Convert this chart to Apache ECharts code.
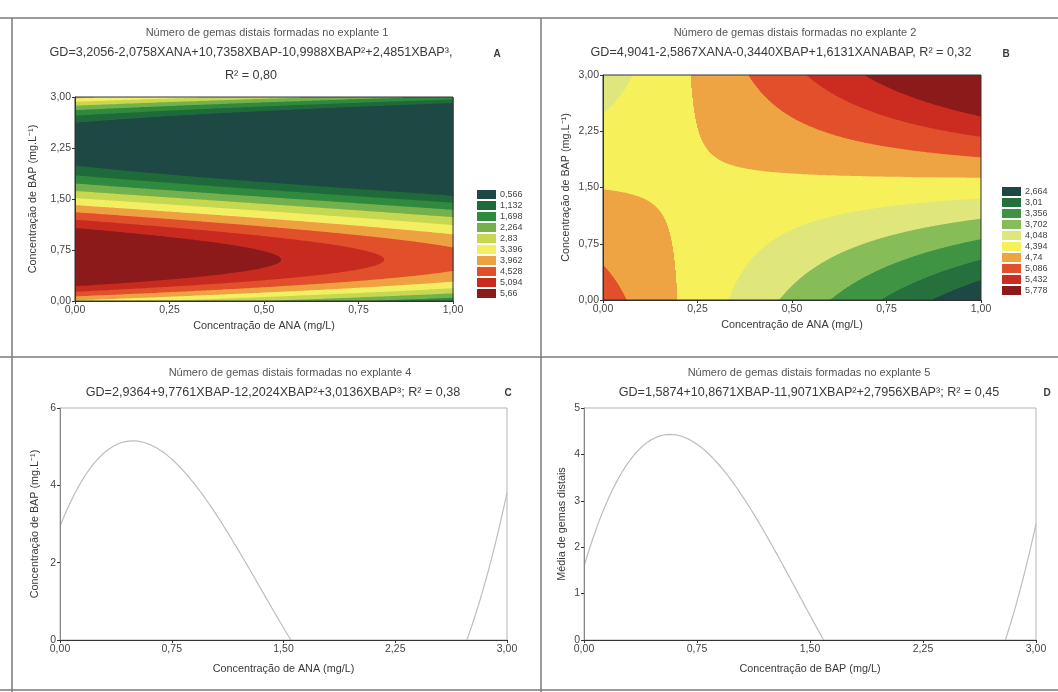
<!DOCTYPE html>
<html>
<head>
<meta charset="utf-8">
<script src="https://cdn.jsdelivr.net/npm/echarts@6/dist/echarts.min.js"></script>
<style>
  html, body { margin: 0; padding: 0; background: #fff; }
  #chart { width: 1058px; height: 692px; }
</style>
</head>
<body>
<div id="chart"></div>
<script>
// Fitted models, coefficients as printed in each panel
const coefA = [3.2056, -2.0758, 10.7358, -10.9988, 2.4851]; // 1, ANA, BAP, BAP², BAP³
const coefB = [4.9041, -2.5867, -0.3440, 1.6131];            // 1, ANA, BAP, ANA·BAP
const coefC = [2.9364, 9.7761, -12.2024, 3.0136];            // 1, x, x², x³
const coefD = [1.5874, 10.8671, -11.9071, 2.7956];           // 1, x, x², x³
const r2Labels = ['0,80', '0,32', '0,38', '0,45'];

const panelTitles = [
  'Número de gemas distais formadas no explante 1',
  'Número de gemas distais formadas no explante 2',
  'Número de gemas distais formadas no explante 4',
  'Número de gemas distais formadas no explante 5'
];
const panelLetters = ['A', 'B', 'C', 'D'];

// Contour levels (legend) and band colours, lowest first
const levelsA = [0.566, 1.132, 1.698, 2.264, 2.83, 3.396, 3.962, 4.528, 5.094, 5.66];
const levelsB = [2.664, 3.01, 3.356, 3.702, 4.048, 4.394, 4.74, 5.086, 5.432, 5.778];
const colorsA = ['#1d4844', '#1f6a3a', '#2f8a3d', '#74b04c', '#c6d750', '#f4ef62', '#eea140', '#e14f2b', '#c82a1f', '#8c1a1a'];
const colorsB = ['#1d4844', '#25703c', '#3f9444', '#86bd58', '#dfe77c', '#f6f15a', '#efa444', '#e1502b', '#cc2c20', '#8c1a1a'];

// Axis tick labels
const anaTicks = ['0,00', '0,25', '0,50', '0,75', '1,00'];
const bapTicks = ['0,00', '0,75', '1,50', '2,25', '3,00'];
const yTicksC = ['0', '2', '4', '6'];
const yTicksD = ['0', '1', '2', '3', '4', '5'];

const FONT = '"Liberation Sans", Arial, sans-serif';
const INK = '#3a3a3a';

function fmtNum(v) { return Math.abs(v).toFixed(4).replace('.', ','); }
function sgn(v) { return (v < 0 ? '-' : '+') + fmtNum(v); }

const eqA = 'GD=' + fmtNum(coefA[0]) + sgn(coefA[1]) + 'XANA' + sgn(coefA[2]) + 'XBAP' +
            sgn(coefA[3]) + 'XBAP²' + sgn(coefA[4]) + 'XBAP³,';
const eqB = 'GD=' + fmtNum(coefB[0]) + sgn(coefB[1]) + 'XANA' + sgn(coefB[2]) + 'XBAP' +
            sgn(coefB[3]) + 'XANABAP, R² = ' + r2Labels[1];
const eqC = 'GD=' + fmtNum(coefC[0]) + sgn(coefC[1]) + 'XBAP' + sgn(coefC[2]) + 'XBAP²' +
            sgn(coefC[3]) + 'XBAP³; R² = ' + r2Labels[2];
const eqD = 'GD=' + fmtNum(coefD[0]) + sgn(coefD[1]) + 'XBAP' + sgn(coefD[2]) + 'XBAP²' +
            sgn(coefD[3]) + 'XBAP³; R² = ' + r2Labels[3];

function surfA(ana, bap) {
  return coefA[0] + coefA[1] * ana + coefA[2] * bap + coefA[3] * bap * bap + coefA[4] * bap * bap * bap;
}
function surfB(ana, bap) {
  return coefB[0] + coefB[1] * ana + coefB[2] * bap + coefB[3] * ana * bap;
}
function cubic(c, x) { return c[0] + c[1] * x + c[2] * x * x + c[3] * x * x * x; }

// Split each narrow ANA column into runs of constant contour band along BAP.
// Each run: [ana0, ana1, bap0, bap1, value]
function bandRuns(fn, levels, nCols, nSteps) {
  const last = levels.length - 1;
  const binOf = v => { let k = 0; while (k < last && v > levels[k]) k++; return k; };
  const runs = [];
  for (let i = 0; i < nCols; i++) {
    const a0 = i / nCols, a1 = (i + 1) / nCols, a = (a0 + a1) / 2;
    let start = 0, startVal = fn(a, 0), cur = binOf(startVal);
    for (let s = 1; s <= nSteps; s++) {
      const b = 3 * s / nSteps;
      const v = fn(a, b);
      const k = binOf(v);
      if (k !== cur || s === nSteps) {
        runs.push([a0, a1, start, b, startVal]);
        start = b; startVal = v; cur = k;
      }
    }
  }
  return runs;
}

const runsA = bandRuns(surfA, levelsA, 378, 1500);
const runsB = bandRuns(surfB, levelsB, 378, 1500);

function sampleCurve(c) {
  const pts = [];
  for (let k = 0; k <= 300; k++) {
    const x = k * 0.01;
    pts.push([x, cubic(c, x)]);
  }
  return pts;
}

function pieces(levels, colors) {
  return levels.map((lv, k) => {
    const p = { color: colors[k], label: String(lv).replace('.', ',') };
    if (k === 0) p.lte = lv;
    else if (k === levels.length - 1) p.gt = levels[k - 1];
    else { p.gt = levels[k - 1]; p.lte = lv; }
    return p;
  });
}

function renderBand(params, api) {
  const p0 = api.coord([api.value(0), api.value(3)]);
  const p1 = api.coord([api.value(1), api.value(2)]);
  return {
    type: 'rect', silent: true,
    shape: { x: p0[0], y: p0[1], width: p1[0] - p0[0] + 0.6, height: p1[1] - p0[1] + 0.6 },
    style: { fill: api.visual('color') }
  };
}

const tickLabelStyle = { fontSize: 10.5, color: '#444', fontFamily: FONT };
const nameStyle = { fontSize: 10.8, color: INK, fontFamily: FONT };

function valueAxis(gridIndex, min, max, interval, labels, extra) {
  return Object.assign({
    type: 'value', gridIndex, min, max, interval, z: 6,
    axisLine: { show: true, lineStyle: { color: '#333', width: 1 } },
    axisTick: { show: true, length: 3, lineStyle: { color: '#333' } },
    axisLabel: {
      ...tickLabelStyle, margin: 4,
      formatter: v => labels[Math.round((v - min) / interval)]
    },
    splitLine: { show: false },
    nameLocation: 'middle',
    nameTextStyle: nameStyle
  }, extra || {});
}

const gA = { left: 75, top: 97, width: 378, height: 204 };
const gB = { left: 603, top: 75, width: 378, height: 225 };
const gC = { left: 60, top: 408, width: 447, height: 232 };
const gD = { left: 584, top: 408, width: 452, height: 232 };

function txt(x, y, text, size, opts) {
  return {
    type: 'text', x, y, silent: true,
    style: Object.assign({
      text, fill: INK, font: size + 'px ' + FONT,
      textAlign: 'center', textVerticalAlign: 'middle',
      align: 'center', verticalAlign: 'middle'
    }, opts || {})
  };
}
function rule(x1, y1, x2, y2) {
  return { type: 'line', silent: true, shape: { x1, y1, x2, y2 }, style: { stroke: '#7a7a7a', lineWidth: 1.5 } };
}

const chart = echarts.init(document.getElementById('chart'), null, { renderer: 'canvas' });

chart.setOption({
  backgroundColor: '#ffffff',
  animation: false,
  textStyle: { fontFamily: FONT },
  grid: [
    Object.assign({ show: true, borderColor: '#333', borderWidth: 1, backgroundColor: 'transparent', z: 5 }, gA),
    Object.assign({ show: true, borderColor: '#333', borderWidth: 1, backgroundColor: 'transparent', z: 5 }, gB),
    Object.assign({ show: true, borderColor: '#b5b5b5', borderWidth: 1, backgroundColor: 'transparent' }, gC),
    Object.assign({ show: true, borderColor: '#b5b5b5', borderWidth: 1, backgroundColor: 'transparent' }, gD)
  ],
  xAxis: [
    valueAxis(0, 0, 1, 0.25, anaTicks, { name: 'Concentração de ANA (mg/L)', nameGap: 20 }),
    valueAxis(1, 0, 1, 0.25, anaTicks, { name: 'Concentração de ANA (mg/L)', nameGap: 20 }),
    valueAxis(2, 0, 3, 0.75, bapTicks, { name: 'Concentração de ANA (mg/L)', nameGap: 24 }),
    valueAxis(3, 0, 3, 0.75, bapTicks, { name: 'Concentração de BAP (mg/L)', nameGap: 24 })
  ],
  yAxis: [
    valueAxis(0, 0, 3, 0.75, bapTicks, { name: 'Concentração de BAP (mg.L⁻¹)', nameGap: 36 }),
    valueAxis(1, 0, 3, 0.75, bapTicks, { name: 'Concentração de BAP (mg.L⁻¹)', nameGap: 31 }),
    valueAxis(2, 0, 6, 2, yTicksC, { name: 'Concentração de BAP (mg.L⁻¹)', nameGap: 19,
      axisLine: { show: true, lineStyle: { color: '#888' } } }),
    valueAxis(3, 0, 5, 1, yTicksD, { name: 'Média de gemas distais', nameGap: 16,
      axisLine: { show: true, lineStyle: { color: '#888' } } })
  ],
  visualMap: [
    {
      type: 'piecewise', seriesIndex: 0, dimension: 4,
      pieces: pieces(levelsA, colorsA),
      orient: 'vertical', inverse: true, align: 'left',
      left: 462, top: 175, itemWidth: 19, itemHeight: 9, itemGap: 2, textGap: 4,
      itemSymbol: 'rect', selectedMode: false, hoverLink: false,
      textStyle: { fontSize: 9, color: '#444', fontFamily: FONT }
    },
    {
      type: 'piecewise', seriesIndex: 1, dimension: 4,
      pieces: pieces(levelsB, colorsB),
      orient: 'vertical', inverse: true, align: 'left',
      left: 987, top: 172, itemWidth: 19, itemHeight: 9, itemGap: 2, textGap: 4,
      itemSymbol: 'rect', selectedMode: false, hoverLink: false,
      textStyle: { fontSize: 9, color: '#444', fontFamily: FONT }
    }
  ],
  series: [
    {
      type: 'custom', coordinateSystem: 'cartesian2d', xAxisIndex: 0, yAxisIndex: 0,
      data: runsA, encode: { x: [0, 1], y: [2, 3] }, renderItem: renderBand,
      clip: true, silent: true
    },
    {
      type: 'custom', coordinateSystem: 'cartesian2d', xAxisIndex: 1, yAxisIndex: 1,
      data: runsB, encode: { x: [0, 1], y: [2, 3] }, renderItem: renderBand,
      clip: true, silent: true
    },
    {
      type: 'line', xAxisIndex: 2, yAxisIndex: 2, data: sampleCurve(coefC),
      showSymbol: false, clip: true, silent: true,
      lineStyle: { color: '#bdbdbd', width: 1.2 }
    },
    {
      type: 'line', xAxisIndex: 3, yAxisIndex: 3, data: sampleCurve(coefD),
      showSymbol: false, clip: true, silent: true,
      lineStyle: { color: '#bdbdbd', width: 1.2 }
    }
  ],
  graphic: [
    rule(0, 18, 1058, 18),
    rule(12, 18, 12, 692),
    rule(541, 18, 541, 692),
    rule(0, 357, 1058, 357),
    rule(0, 690, 1058, 690),

    txt(267, 33, panelTitles[0], 11, { fill: '#555' }),
    txt(251, 53, eqA, 12.6),
    txt(251, 76, 'R² = ' + r2Labels[0], 12.6),
    txt(497, 54, panelLetters[0], 10, { font: 'bold 10px ' + FONT }),

    txt(795, 33, panelTitles[1], 11, { fill: '#555' }),
    txt(781, 53, eqB, 12.6),
    txt(1006, 54, panelLetters[1], 10, { font: 'bold 10px ' + FONT }),

    txt(290, 373, panelTitles[2], 11, { fill: '#555' }),
    txt(273, 393, eqC, 12.6),
    txt(508, 393, panelLetters[2], 10, { font: 'bold 10px ' + FONT }),

    txt(809, 373, panelTitles[3], 11, { fill: '#555' }),
    txt(809, 393, eqD, 12.6),
    txt(1047, 393, panelLetters[3], 10, { font: 'bold 10px ' + FONT })
  ]
});
</script>
</body>
</html>
